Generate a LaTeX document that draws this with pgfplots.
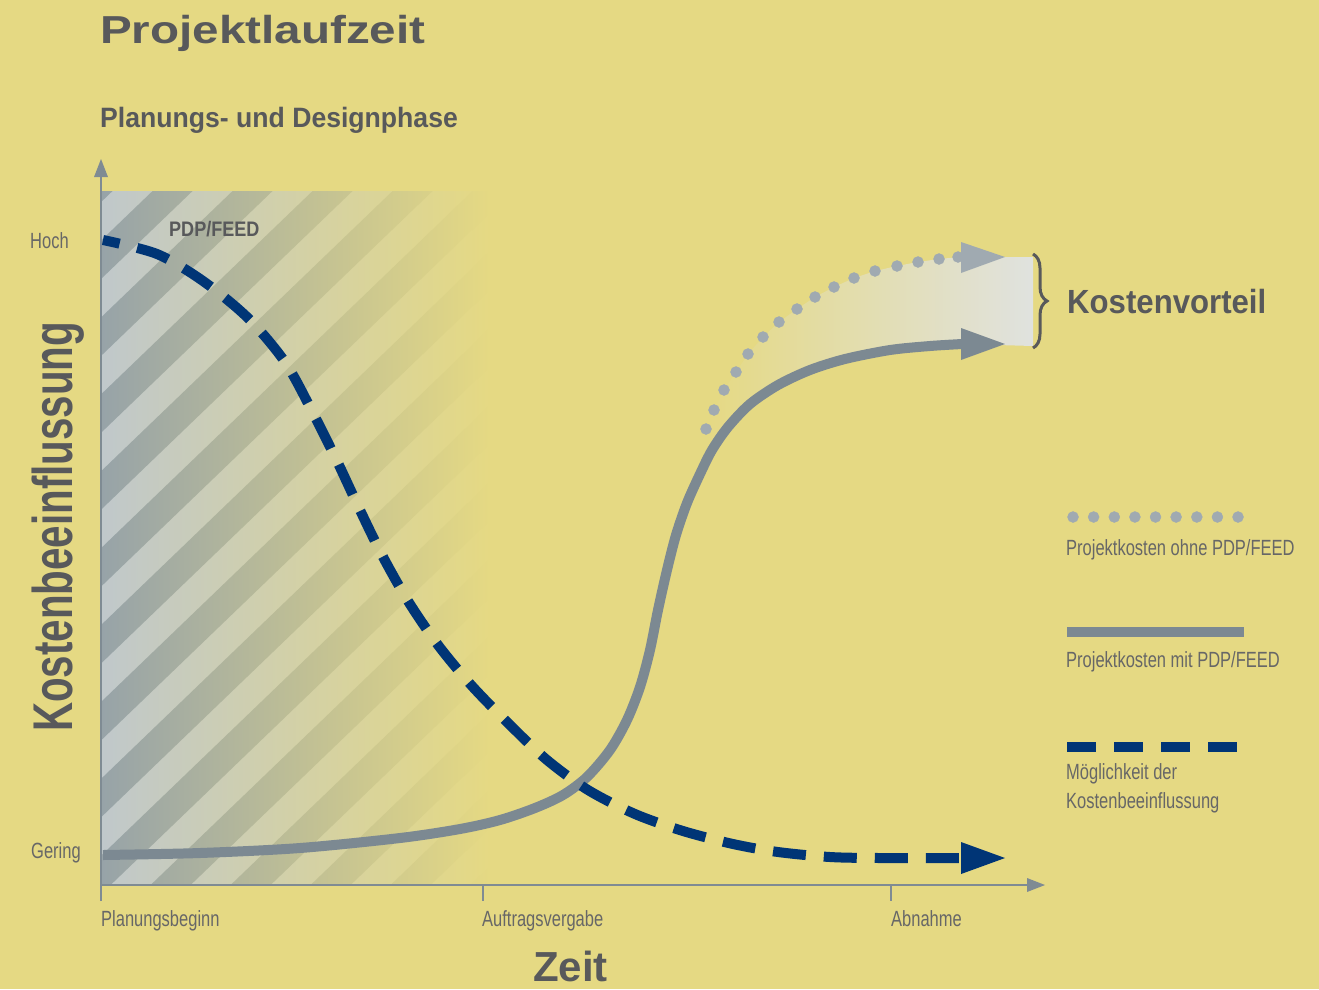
\documentclass[border=0pt]{standalone}
\usepackage{pgfplots}
\pgfplotsset{compat=1.18}
\usepackage{fontspec}
\usetikzlibrary{decorations.pathreplacing}
\setmainfont{Liberation Sans}
\newfontfamily\wideb[FakeStretch=1.22]{Liberation Sans}
\newfontfamily\subb[FakeStretch=0.95]{Liberation Sans}
\newfontfamily\condb[FakeStretch=0.72]{Liberation Sans}
\newfontfamily\kvb[FakeStretch=0.93]{Liberation Sans}
\newfontfamily\pdpb[FakeStretch=0.86]{Liberation Sans}
\newfontfamily\lightc[FakeStretch=0.75]{Liberation Sans}
\definecolor{bg}{HTML}{E5D983}
\definecolor{lightband}{HTML}{C0C8CB}
\definecolor{darkband}{HTML}{97A3A8}
\definecolor{axisgray}{HTML}{7F8B93}
\definecolor{solidgray}{HTML}{7C8992}
\definecolor{dotgray}{HTML}{A0AAB1}
\definecolor{navy}{HTML}{003576}
\definecolor{txtdark}{HTML}{58595B}
\definecolor{txtlight}{HTML}{676767}
\definecolor{fillgray}{HTML}{E0E2DF}
\begin{document}
\begin{tikzpicture}
\begin{axis}[scale only axis, width=1319pt, height=989pt,
  xmin=0, xmax=1319, ymin=0, ymax=989, y dir=reverse,
  hide axis, clip=false]
% background
\fill[bg] (0,0) rectangle (1319,989);
% hatched planning phase
\shade[left color=lightband, right color=bg] (101,191) rectangle (490,885);
\begin{scope}
\clip (101,191) rectangle (490,885);
\clip (84,180)--(124,180)--(-625,900)--(-665,900)--cycle
      (164,180)--(204,180)--(-545,900)--(-585,900)--cycle
      (244,180)--(284,180)--(-465,900)--(-505,900)--cycle
      (324,180)--(364,180)--(-385,900)--(-425,900)--cycle
      (404,180)--(444,180)--(-305,900)--(-345,900)--cycle
      (484,180)--(524,180)--(-225,900)--(-265,900)--cycle
      (564,180)--(604,180)--(-145,900)--(-185,900)--cycle
      (644,180)--(684,180)--(-65,900)--(-105,900)--cycle
      (724,180)--(764,180)--(15,900)--(-25,900)--cycle
      (804,180)--(844,180)--(95,900)--(55,900)--cycle
      (884,180)--(924,180)--(175,900)--(135,900)--cycle
      (964,180)--(1004,180)--(255,900)--(215,900)--cycle
      (1044,180)--(1084,180)--(335,900)--(295,900)--cycle
      (1124,180)--(1164,180)--(415,900)--(375,900)--cycle
      (1204,180)--(1244,180)--(495,900)--(455,900)--cycle;
\shade[left color=darkband, right color=bg] (101,191) rectangle (490,885);
\end{scope}
% cost advantage area
\addplot[draw=none, left color=bg, right color=fillgray] coordinates {
 (706,429) (714,410) (724,390) (736,372) (748,354) (763,337) (779,322) (797,309)
 (815,297) (834,287) (854,278) (875,271) (897,266) (918,262) (939,259) (960,257)
 (1033,257) (1033,346) (962,344) (930,346) (890,350) (845,359) (810,370) (778,385)
 (750,404) (728,427) (712,450)};
% axes
\draw[axisgray, line width=2.5pt] (101,901) -- (101,177);
\fill[axisgray] (94,177) -- (101,159) -- (108,177) -- cycle;
\draw[axisgray, line width=2.5pt] (100,885) -- (1028,885);
\fill[axisgray] (1027,878) -- (1045,885) -- (1027,892) -- cycle;
\draw[axisgray, line width=2.5pt] (483,885) -- (483,901);
\draw[axisgray, line width=2.5pt] (891,885) -- (891,901);
% Projektkosten mit PDP/FEED
\addplot[solidgray, line width=10pt, smooth, no marks] coordinates {
 (103,855) (200,853) (300,848) (400,838) (460,829) (500,820) (535,808) (563,795)
 (587,777) (610,750) (627,720) (640,687) (650,650) (658,610) (667,570) (676,535)
 (687,503) (700,474) (712,450) (728,427) (750,404) (778,385) (810,370) (845,359)
 (890,350) (930,346) (962,344)};
\fill[solidgray] (961,328) -- (1005,344) -- (961,360) -- cycle;
% Projektkosten ohne PDP/FEED
\addplot[only marks, mark=*, mark size=5.5pt, dotgray, mark options={draw=none, fill=dotgray}] coordinates {
 (706,429) (714,410) (724,390) (736,372) (748,354) (763,337) (779,322) (797,309)
 (815,297) (834,287) (854,278) (875,271) (897,266) (918,262) (939,259) (958,257)};
\fill[dotgray] (961,242) -- (1005,257) -- (961,273) -- cycle;
% Moeglichkeit der Kostenbeeinflussung
\addplot[navy, line width=10pt, smooth, no marks, dash pattern=on 33pt off 18pt, dash phase=16pt] coordinates {
 (103,240) (157,254) (203,281) (248,318) (285,362) (312,411) (337,461) (359,508)
 (382,555) (408,601) (438,645) (472,686) (510,725) (547,760) (588,790) (635,814)
 (683,831) (733,844) (778,852) (830,857) (880,858) (962,858)};
\fill[navy] (961,842) -- (1005,858) -- (961,874) -- cycle;
% brace
\draw[txtdark, line width=3pt, decorate, decoration={brace, amplitude=14pt}] (1033,254) -- (1033,348);
% legend
\addplot[only marks, mark=*, mark size=5.5pt, dotgray, mark options={draw=none, fill=dotgray}] coordinates {
 (1073,517) (1093.6,517) (1114.3,517) (1134.9,517) (1155.5,517) (1176.1,517) (1196.8,517) (1217.4,517) (1238,517)};
\addplot[solidgray, line width=10pt, no marks] coordinates {(1067,632) (1244,632)};
\addplot[navy, line width=10pt, no marks, dash pattern=on 29pt off 18pt] coordinates {(1067,747) (1237,747)};
% texts
\node[anchor=base west, inner sep=0, text=txtdark, font={\wideb\bfseries\fontsize{39}{44}\selectfont}] at (100,43) {Projektlaufzeit};
\node[anchor=base west, inner sep=0, text=txtdark, font={\subb\bfseries\fontsize{28}{32}\selectfont}] at (100,127) {Planungs- und Designphase};
\node[anchor=base west, inner sep=0, rotate=90, text=txtdark, font={\condb\bfseries\fontsize{56}{60}\selectfont}] at (72,732) {Kostenbeeinflussung};
\node[anchor=base west, inner sep=0, text=txtdark, font={\bfseries\fontsize{42}{48}\selectfont}] at (533,981) {Zeit};
\node[anchor=base west, inner sep=0, text=txtdark, font={\kvb\bfseries\fontsize{33.5}{38}\selectfont}] at (1067,313) {Kostenvorteil};
\node[anchor=base west, inner sep=0, text=txtdark, font={\pdpb\bfseries\fontsize{21}{24}\selectfont}] at (169,236) {PDP/FEED};
\node[anchor=base west, inner sep=0, text=txtlight, font={\lightc\fontsize{22}{26}\selectfont}] at (30,248) {Hoch};
\node[anchor=base west, inner sep=0, text=txtlight, font={\lightc\fontsize{22}{26}\selectfont}] at (31,858) {Gering};
\node[anchor=base west, inner sep=0, text=txtlight, font={\lightc\fontsize{22}{26}\selectfont}] at (101,926) {Planungsbeginn};
\node[anchor=base west, inner sep=0, text=txtlight, font={\lightc\fontsize{22}{26}\selectfont}] at (482,926) {Auftragsvergabe};
\node[anchor=base west, inner sep=0, text=txtlight, font={\lightc\fontsize{22}{26}\selectfont}] at (891,926) {Abnahme};
\node[anchor=base west, inner sep=0, text=txtlight, font={\lightc\fontsize{22}{26}\selectfont}] at (1066,555) {Projektkosten ohne PDP/FEED};
\node[anchor=base west, inner sep=0, text=txtlight, font={\lightc\fontsize{22}{26}\selectfont}] at (1066,667) {Projektkosten mit PDP/FEED};
\node[anchor=base west, inner sep=0, text=txtlight, font={\lightc\fontsize{22}{26}\selectfont}] at (1066,779) {Möglichkeit der};
\node[anchor=base west, inner sep=0, text=txtlight, font={\lightc\fontsize{22}{26}\selectfont}] at (1066,808) {Kostenbeeinflussung};
\end{axis}
\end{tikzpicture}
\end{document}
